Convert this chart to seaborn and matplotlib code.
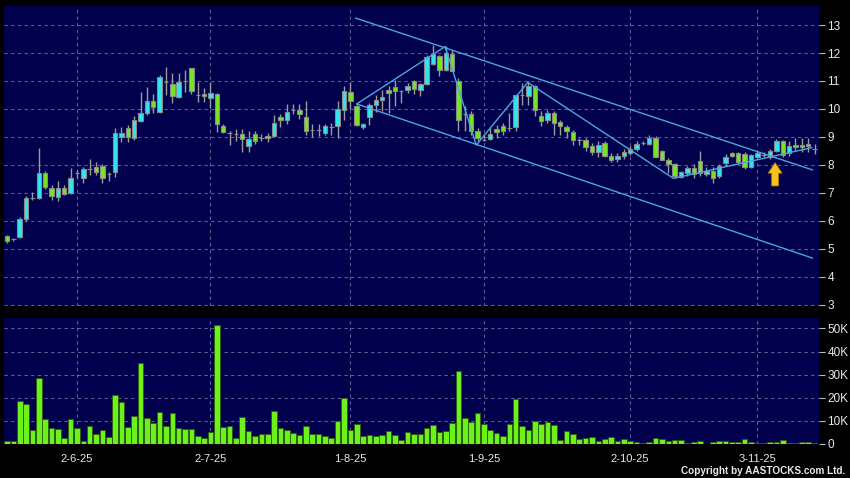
import numpy as np
import pandas as pd
import seaborn as sns
import matplotlib.pyplot as plt

# daily candles, 16-5-25 .. 14-11-25 (index = trading day)
opens = [5.46, 5.35, 5.42, 6.06, 6.81, 6.81, 7.70, 7.19, 6.85, 7.17,
         6.99, 7.71, 7.52, 7.85, 7.92, 7.96, 7.67, 7.74, 8.99, 9.31,
         8.95, 9.58, 9.85, 10.30, 9.90, 10.98, 10.88, 10.44, 11.00, 11.45,
         10.50, 10.52, 10.38, 10.52, 9.39, 9.15, 9.10, 9.12, 8.67, 9.10,
         8.98, 8.95, 9.02, 9.71, 9.62, 9.95, 9.98, 9.71, 9.26, 9.26,
         9.14, 9.36, 9.40, 9.95, 10.60, 10.12, 9.36, 9.71, 10.13, 10.31,
         10.69, 10.77, 10.63, 10.69, 10.99, 10.69, 10.89, 11.61, 11.88, 11.38,
         11.98, 10.99, 9.83, 9.83, 9.20, 8.90, 8.93, 9.29, 9.38, 9.32,
         9.35, 10.51, 10.45, 10.81, 9.74, 9.62, 9.86, 9.54, 9.36, 9.18,
         8.88, 8.90, 8.67, 8.46, 8.79, 8.31, 8.21, 8.33, 8.43, 8.57,
         8.79, 8.76, 8.96, 8.49, 8.19, 8.04, 7.58, 7.73, 7.88, 8.13,
         7.67, 7.80, 7.61, 8.06, 8.42, 8.42, 8.40, 7.92, 8.30, 8.37,
         8.30, 8.49, 8.86, 8.42, 8.70, 8.70, 8.66, 8.58]
highs = [5.50, 5.40, 6.15, 6.90, 7.05, 8.60, 7.80, 7.29, 7.43, 7.29,
         7.88, 7.82, 7.93, 8.21, 8.10, 8.05, 7.76, 9.33, 9.35, 9.43,
         9.75, 10.62, 10.80, 10.52, 11.21, 11.50, 11.27, 11.27, 11.39, 11.45,
         10.98, 10.74, 10.98, 10.56, 9.48, 9.21, 9.27, 9.29, 9.20, 9.20,
         9.11, 9.13, 9.79, 9.83, 10.17, 10.17, 10.17, 10.27, 9.45, 9.45,
         9.45, 9.50, 10.27, 10.83, 10.95, 10.23, 9.50, 10.20, 10.50, 10.67,
         10.81, 11.05, 10.69, 10.93, 11.05, 10.92, 11.94, 12.30, 11.94, 12.24,
         12.12, 11.11, 10.10, 9.92, 9.32, 9.08, 9.32, 9.44, 9.50, 9.85,
         10.51, 10.93, 10.99, 10.87, 9.92, 9.98, 9.92, 9.60, 9.42, 9.24,
         8.96, 8.96, 8.79, 8.85, 8.85, 8.43, 8.43, 8.57, 8.67, 8.85,
         8.85, 9.08, 9.02, 8.55, 8.25, 8.08, 7.80, 7.98, 8.02, 8.50,
         7.92, 7.92, 8.02, 8.40, 8.47, 8.47, 8.45, 8.40, 8.51, 8.45,
         8.58, 8.93, 8.90, 8.86, 8.95, 8.95, 8.95, 8.76]
lows = [5.20, 5.30, 5.38, 5.98, 6.75, 6.78, 7.15, 6.73, 6.71, 6.92,
        6.96, 7.52, 7.37, 7.64, 7.64, 7.35, 7.43, 7.58, 8.83, 8.83,
        8.88, 9.55, 9.80, 9.86, 9.85, 10.50, 10.20, 10.38, 10.62, 10.52,
        10.26, 10.26, 10.02, 9.19, 9.13, 8.71, 8.87, 8.48, 8.48, 8.75,
        8.86, 8.82, 9.00, 9.36, 9.45, 9.83, 9.64, 9.08, 9.00, 9.02,
        9.08, 9.08, 8.96, 9.60, 10.00, 9.38, 9.30, 9.44, 9.90, 9.93,
        9.86, 10.12, 10.23, 10.57, 10.55, 10.45, 10.85, 11.58, 11.17, 11.36,
        11.35, 9.20, 9.20, 9.08, 8.85, 8.85, 8.90, 8.96, 9.08, 9.20,
        9.20, 10.15, 10.15, 9.74, 9.38, 9.50, 9.08, 9.08, 8.96, 8.73,
        8.73, 8.49, 8.37, 8.30, 8.30, 8.10, 8.10, 8.20, 8.37, 8.49,
        8.73, 8.73, 8.29, 8.17, 7.70, 7.55, 7.52, 7.60, 7.55, 7.60,
        7.62, 7.37, 7.55, 7.98, 8.30, 8.05, 7.85, 7.88, 8.25, 8.30,
        8.22, 8.45, 8.30, 8.33, 8.52, 8.45, 8.45, 8.40]
closes = [5.29, 5.35, 6.06, 6.83, 6.81, 7.70, 7.20, 6.88, 7.17, 6.96,
          7.52, 7.71, 7.87, 7.85, 7.76, 7.52, 7.67, 9.13, 9.13, 9.01,
          9.60, 9.85, 10.30, 10.08, 11.13, 10.98, 10.48, 10.98, 11.00, 10.64,
          10.50, 10.48, 10.56, 9.45, 9.17, 9.15, 9.10, 8.93, 8.92, 8.86,
          8.98, 9.04, 9.49, 9.60, 9.90, 9.95, 9.83, 9.23, 9.26, 9.26,
          9.38, 9.36, 10.00, 10.65, 10.30, 9.44, 9.46, 10.13, 10.31, 10.43,
          10.57, 10.63, 10.63, 10.81, 10.71, 10.90, 11.86, 11.96, 11.40, 12.00,
          11.37, 9.60, 9.83, 9.23, 8.96, 8.90, 9.12, 9.18, 9.20, 9.32,
          10.49, 10.51, 10.81, 9.98, 9.58, 9.86, 9.50, 9.38, 9.20, 8.90,
          8.88, 8.64, 8.46, 8.73, 8.33, 8.17, 8.31, 8.45, 8.57, 8.76,
          8.79, 8.96, 8.29, 8.17, 8.04, 7.60, 7.75, 7.88, 7.67, 7.71,
          7.80, 7.53, 7.95, 8.30, 8.32, 8.10, 7.92, 8.34, 8.43, 8.37,
          8.49, 8.84, 8.36, 8.66, 8.64, 8.64, 8.76, 8.58]
# volume in thousands of shares
volumes = [1.3, 1.3, 18.4, 17.1, 5.9, 28.4, 10.9, 7.1, 6.7, 2.6,
           10.9, 7.0, 1.4, 8.0, 4.5, 6.2, 3.2, 21.3, 18.0, 7.5,
           11.9, 35.2, 11.4, 9.1, 13.9, 7.7, 13.6, 7.1, 6.4, 6.4,
           3.6, 2.5, 5.1, 51.3, 7.4, 7.7, 2.5, 11.7, 5.7, 3.6,
           4.3, 4.2, 14.1, 7.1, 6.2, 4.9, 4.1, 7.8, 4.3, 4.3,
           3.6, 2.6, 10.1, 20.0, 6.1, 8.8, 3.5, 3.9, 3.3, 3.9,
           5.5, 3.9, 1.9, 5.1, 4.5, 4.4, 7.0, 8.3, 5.2, 5.5,
           9.1, 31.7, 11.2, 9.4, 13.6, 8.8, 6.2, 4.9, 3.6, 8.6,
           19.6, 7.7, 6.1, 10.0, 8.8, 9.6, 8.4, 1.9, 5.5, 4.5,
           2.3, 2.6, 3.0, 1.4, 2.2, 3.2, 1.4, 2.0, 1.4, 1.0,
           0.3, 0.7, 2.8, 2.3, 1.4, 1.7, 1.7, 0.6, 1.0, 1.4,
           0.15, 1.0, 1.3, 1.3, 0.7, 0.7, 2.2, 1.0, 0.6, 0.6,
           0.7, 1.0, 1.7, 0.4, 0.4, 0.9, 0.9, 0.3]

date_pos = [11, 32, 54, 75, 98, 118]
date_labels = ["2-6-25", "2-7-25", "1-8-25", "1-9-25", "2-10-25", "3-11-25"]
price_ticks = list(range(3, 14))
vol_ticks = [0, 10, 20, 30, 40, 50]
vol_labels = ["0", "10K", "20K", "30K", "40K", "50K"]

# drawn trend lines (day index, price)
upper_channel = [(54.8, 13.25), (126.7, 7.82)]
lower_channel = [(55.0, 10.18), (126.7, 4.67)]
zigzag = [(55.0, 10.18), (68.9, 12.23), (73.8, 8.71), (81.9, 10.95),
          (104.8, 7.52), (126.6, 8.62)]
arrow_day, arrow_tip, arrow_base = 120.8, 8.08, 7.25

BG = "#00004c"
UP = "#30e4f0"
DOWN = "#78e61c"
GRIDC = "#5e5e90"
LINEC = "#4aa6e0"
TXT = "#e8e8e8"

sns.set_style("dark", rc={"axes.facecolor": BG, "figure.facecolor": "black",
                          "grid.color": GRIDC, "grid.linestyle": (0, (3, 3)),
                          "grid.linewidth": 0.8})
plt.rcParams["font.family"] = ["Liberation Sans", "DejaVu Sans"]

df = pd.DataFrame({"day": np.arange(len(opens)), "open": opens, "high": highs,
                   "low": lows, "close": closes, "vol": volumes})
df["colour"] = np.where(df["close"] > df["open"], UP,
                        np.where(df["close"] < df["open"], DOWN, "#9a9a9a"))

fig = plt.figure(figsize=(8.5, 4.78), dpi=100)
ax = fig.add_axes([3.5/850, 1-306/478, 815.5/850, 300/478])
axv = fig.add_axes([3.5/850, 1-444/478, 815.5/850, 126/478])

# price candles
ax.vlines(df["day"], df["low"], df["high"], color="#9c9c9c", lw=1, zorder=2)
ax.bar(df["day"], df["close"]-df["open"], bottom=df["open"], width=0.7,
       color=df["colour"], edgecolor="#8a8a8a", linewidth=0.8, zorder=3)

for pts in (upper_channel, lower_channel, zigzag):
    xs, ys = zip(*pts)
    ax.plot(xs, ys, color=LINEC, lw=1, zorder=4)

ax.annotate("", xy=(arrow_day, arrow_tip), xytext=(arrow_day, arrow_base),
            arrowprops=dict(arrowstyle="simple,head_width=1.0,head_length=0.75,tail_width=0.5",
                            fc="#f6c21c", ec="#b07c00", lw=0.6, mutation_scale=10,
                            shrinkA=0, shrinkB=0), zorder=5)

ax.set_xlim(-0.55, 127.7)
ax.set_ylim(2.96, 13.68)
ax.set_yticks(price_ticks)
ax.set_xticks(date_pos)
ax.set_xticklabels([])
ax.yaxis.tick_right()
ax.tick_params(axis="y", direction="out", length=4, width=0.8, color="#bbbbbb",
               labelcolor=TXT, labelsize=8.5, pad=2)
ax.tick_params(axis="x", length=0)
ax.grid(True, axis="both")

# volume
sns.barplot(data=df, x="day", y="vol", native_scale=True, ax=axv, color="#6cf21a",
            saturation=1, width=0.88, edgecolor="#2b5a0c", linewidth=0.6,
            errorbar=None, zorder=3)
axv.set_xlim(-0.55, 127.7)
axv.set_ylim(0, 54.5)
axv.set_yticks(vol_ticks)
axv.set_yticklabels(vol_labels)
axv.set_xticks(date_pos)
axv.set_xticklabels(date_labels)
axv.set_xlabel("")
axv.set_ylabel("")
axv.yaxis.tick_right()
axv.tick_params(axis="y", direction="out", length=4, width=0.8, color="#bbbbbb",
                labelcolor=TXT, labelsize=8.5, pad=2)
axv.tick_params(axis="x", direction="out", length=3, width=0.8, color="#bbbbbb",
                labelcolor=TXT, labelsize=8, pad=4)
axv.grid(True, axis="both")

for a in (ax, axv):
    for s in a.spines.values():
        s.set_visible(False)

fig.text(845/850, 1-476/478, "Copyright by AASTOCKS.com Ltd.", ha="right", va="bottom",
         color=TXT, fontsize=7.2, fontweight="bold")

fig.savefig("out.png", dpi=100, facecolor="black")
